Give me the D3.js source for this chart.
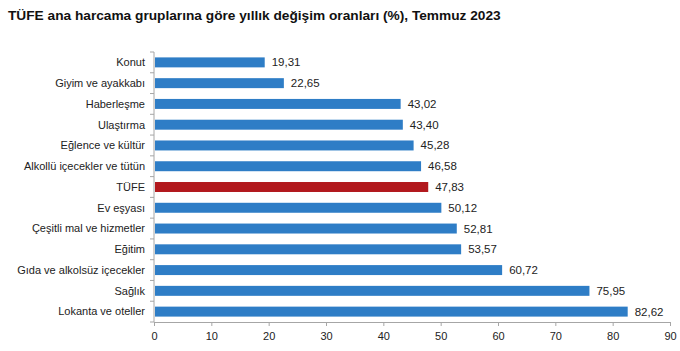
<!DOCTYPE html>
<html>
<head>
<meta charset="utf-8">
<script src="https://cdn.jsdelivr.net/npm/d3@7"></script>
<style>
  body { margin: 0; background: #fff; }
  svg { display: block; font-family: "Liberation Sans", Arial, sans-serif; }
  .axis path, .axis line { stroke: #a6a6a6; }
  .axis text { fill: #222; font-size: 11px; }
</style>
</head>
<body>
<div id="chart"></div>
<script>
  // veriler
  const categories = [
    "Konut", "Giyim ve ayakkabı", "Haberleşme", "Ulaştırma", "Eğlence ve kültür",
    "Alkollü içecekler ve tütün", "TÜFE", "Ev eşyası", "Çeşitli mal ve hizmetler",
    "Eğitim", "Gıda ve alkolsüz içecekler", "Sağlık", "Lokanta ve oteller"
  ];
  const values = [19.31, 22.65, 43.02, 43.40, 45.28, 46.58, 47.83, 50.12, 52.81, 53.57, 60.72, 75.95, 82.62];
  const xTicks = [0, 10, 20, 30, 40, 50, 60, 70, 80, 90];
  const highlight = "TÜFE";

  const width = 680, height = 351;
  const margin = { top: 52, right: 10, bottom: 29, left: 154 };
  const blue = "#2e7dc6";
  const red = "#b2181d";

  const svg = d3.select("#chart").append("svg")
    .attr("width", width)
    .attr("height", height);

  svg.append("text")
    .attr("x", 8)
    .attr("y", 20)
    .style("font-size", "13.7px")
    .style("font-weight", "bold")
    .style("fill", "#111")
    .text("TÜFE ana harcama gruplarına göre yıllık değişim oranları (%), Temmuz 2023");

  const x = d3.scaleLinear().domain([0, 90]).range([margin.left, 670]);
  const y = d3.scaleBand().domain(categories)
    .range([margin.top, height - margin.bottom])
    .paddingInner(0.52).paddingOuter(0.26);

  // y ekseni: kategori sınırlarında küçük çizgiler
  const step = y.step();
  const yAxis = svg.append("g").attr("class", "axis");
  yAxis.append("line")
    .attr("x1", margin.left).attr("x2", margin.left)
    .attr("y1", margin.top).attr("y2", height - margin.bottom);
  yAxis.selectAll("line.tick")
    .data(d3.range(categories.length + 1))
    .join("line")
    .attr("class", "tick")
    .attr("x1", margin.left - 4).attr("x2", margin.left)
    .attr("y1", (d) => margin.top + d * step)
    .attr("y2", (d) => margin.top + d * step);
  yAxis.selectAll("text")
    .data(categories)
    .join("text")
    .attr("x", margin.left - 9)
    .attr("y", (d) => y(d) + y.bandwidth() / 2)
    .attr("dy", "0.35em")
    .attr("text-anchor", "end")
    .text((d) => d);

  svg.append("g")
    .attr("class", "axis")
    .attr("transform", `translate(0,${height - margin.bottom})`)
    .call(d3.axisBottom(x).tickValues(xTicks).tickSize(4).tickPadding(6))
    .call((g) => g.select(".domain").attr("d", `M${margin.left},0.5H670`));

  svg.selectAll("rect.bar")
    .data(values)
    .join("rect")
    .attr("class", "bar")
    .attr("x", x(0) + 1)
    .attr("y", (d, i) => y(categories[i]))
    .attr("width", (d) => x(d) - x(0) - 1)
    .attr("height", y.bandwidth())
    .attr("fill", (d, i) => (categories[i] === highlight ? red : blue));

  svg.selectAll("text.val")
    .data(values)
    .join("text")
    .attr("class", "val")
    .attr("x", (d) => x(d) + 7)
    .attr("y", (d, i) => y(categories[i]) + y.bandwidth() / 2)
    .attr("dy", "0.35em")
    .style("font-size", "11.5px")
    .style("fill", "#222")
    .text((d) => d.toFixed(2).replace(".", ","));
</script>
</body>
</html>
